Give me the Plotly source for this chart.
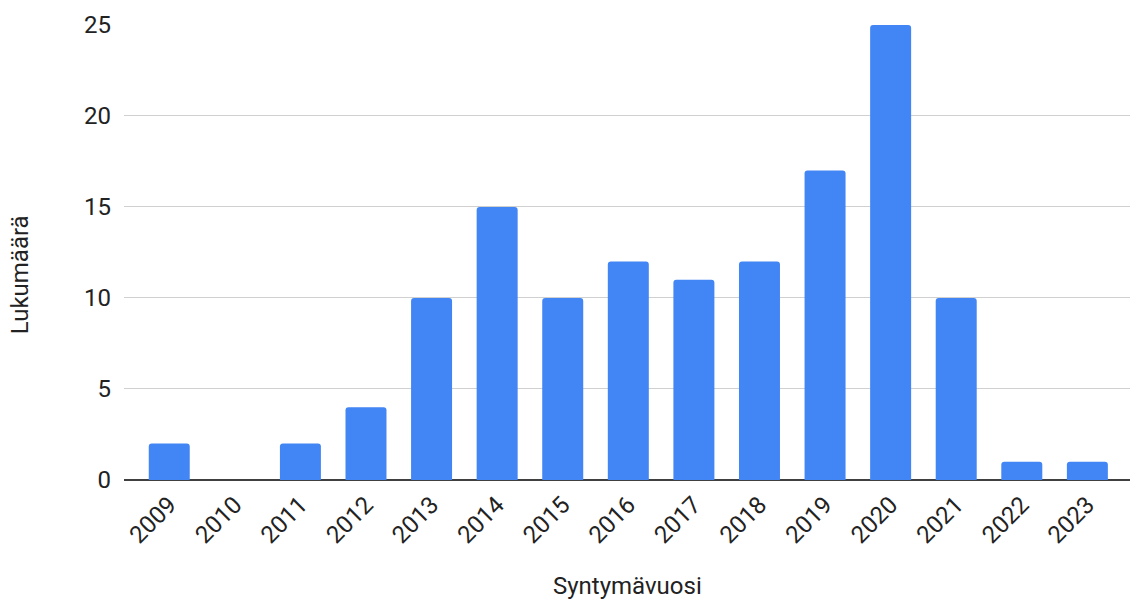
import plotly.graph_objects as go

years = ["2009", "2010", "2011", "2012", "2013", "2014", "2015", "2016",
         "2017", "2018", "2019", "2020", "2021", "2022", "2023"]
counts = [2, 0, 2, 4, 10, 15, 10, 12, 11, 12, 17, 25, 10, 1, 1]
y_ticks = [0, 5, 10, 15, 20, 25]
x_title = "Syntymävuosi"
y_title = "Lukumäärä"

FS = 24

fig = go.Figure(go.Bar(x=years, y=counts, marker=dict(color="#4285F4", line=dict(width=0))))

fig.update_layout(
    width=1130, height=603,
    margin=dict(l=124, r=0, t=24, b=123),
    paper_bgcolor="white", plot_bgcolor="white",
    bargap=0.375,
    barcornerradius=3,
    font=dict(family="Roboto", size=FS, color="#222222"),
    showlegend=False,
    xaxis=dict(type="category", tickangle=-45, range=[-0.69, 14.65],
               showgrid=False, showline=False, ticks="", zeroline=False,
               ticklabelstandoff=5,
               tickfont=dict(size=FS, color="#222222")),
    yaxis=dict(range=[0, 25.05], tickvals=y_ticks, showgrid=True,
               gridcolor="#d0d0d0", gridwidth=1, zeroline=True,
               zerolinecolor="#404040", zerolinewidth=2, showline=False,
               ticks="", ticklabelstandoff=12,
               tickfont=dict(size=FS, color="#222222")),
    annotations=[
        dict(text=x_title, xref="paper", yref="paper", x=0.5, y=0, yshift=-106,
             xanchor="center", yanchor="middle", showarrow=False,
             font=dict(size=FS, color="#222222")),
        dict(text=y_title, xref="paper", yref="paper", x=0, xshift=-104,
             y=0.449, textangle=-90, xanchor="center", yanchor="middle",
             showarrow=False, font=dict(size=FS, color="#222222")),
    ],
)

fig.write_html("out.html")
